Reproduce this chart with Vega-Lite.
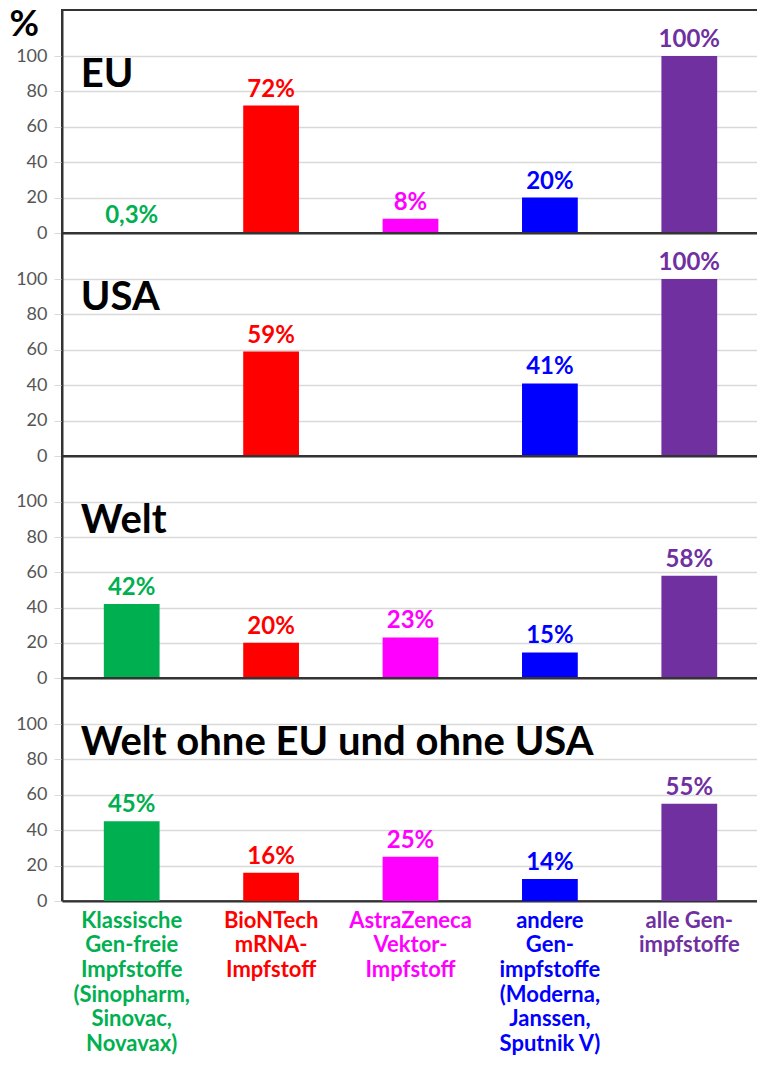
{
  "$schema": "https://vega.github.io/schema/vega-lite/v6.json",
  "background": "white",
  "padding": {"left": 8, "top": 5, "right": 0, "bottom": 0},
  "spacing": 0,
  "bounds": "flush",
  "config": {
    "font": "Lato",
    "view": {"stroke": "#333", "strokeWidth": 2}
  },
  "data": {"values": [
    {"region": "EU", "cat": "klassisch", "value": 0.3, "label": "0,3%"},
    {"region": "EU", "cat": "biontech", "value": 72, "label": "72%"},
    {"region": "EU", "cat": "astrazeneca", "value": 8, "label": "8%"},
    {"region": "EU", "cat": "andere", "value": 20, "label": "20%"},
    {"region": "EU", "cat": "alle", "value": 100, "label": "100%"},
    {"region": "USA", "cat": "klassisch", "value": 0, "label": ""},
    {"region": "USA", "cat": "biontech", "value": 59, "label": "59%"},
    {"region": "USA", "cat": "astrazeneca", "value": 0, "label": ""},
    {"region": "USA", "cat": "andere", "value": 41, "label": "41%"},
    {"region": "USA", "cat": "alle", "value": 100, "label": "100%"},
    {"region": "Welt", "cat": "klassisch", "value": 42, "label": "42%"},
    {"region": "Welt", "cat": "biontech", "value": 20, "label": "20%"},
    {"region": "Welt", "cat": "astrazeneca", "value": 23, "label": "23%"},
    {"region": "Welt", "cat": "andere", "value": 14.5, "label": "15%"},
    {"region": "Welt", "cat": "alle", "value": 58, "label": "58%"},
    {"region": "Welt ohne EU und ohne USA", "cat": "klassisch", "value": 45, "label": "45%"},
    {"region": "Welt ohne EU und ohne USA", "cat": "biontech", "value": 16, "label": "16%"},
    {"region": "Welt ohne EU und ohne USA", "cat": "astrazeneca", "value": 25, "label": "25%"},
    {"region": "Welt ohne EU und ohne USA", "cat": "andere", "value": 12.5, "label": "14%"},
    {"region": "Welt ohne EU und ohne USA", "cat": "alle", "value": 55, "label": "55%"}
  ]},
  "vconcat": [
    {
      "width": 697, "height": 223,
      "transform": [{"filter": "datum.region == 'EU'"}],
      "encoding": {
        "x": {"field": "cat", "type": "nominal", "sort": ["klassisch","biontech","astrazeneca","andere","alle"],
              "scale": {"paddingInner": 0.6, "paddingOuter": 0.3},
              "axis": {"title": null, "labels": false, "ticks": false, "domainColor": "#333", "domainWidth": 2}},
        "y": {"field": "value", "type": "quantitative", "scale": {"domain": [0, 126], "nice": false},
              "axis": {"values": [0,20,40,60,80,100], "title": "%", "titleAngle": 0, "titleFontSize": 36, "titleFontWeight": "bold", "titleColor": "#000",
                       "titleAlign": "left", "titleBaseline": "top", "titleX": -53, "titleY": -3,
                       "labelFontSize": 18, "labelColor": "#555", "labelPadding": 7, "tickSize": 8, "tickColor": "#d9d9d9",
                       "gridColor": "#d9d9d9", "gridWidth": 1.5, "domainColor": "#333", "domainWidth": 2}},
        "color": {"field": "cat", "type": "nominal", "legend": null,
                  "scale": {"domain": ["klassisch","biontech","astrazeneca","andere","alle"], "range": ["#00B050","#FF0000","#FF00FF","#0000FF","#7030A0"]}}
      },
      "layer": [
        {"mark": {"type": "bar"}},
        {"mark": {"type": "text", "baseline": "bottom", "dy": -4, "fontSize": 24, "fontWeight": "bold"}, "encoding": {"text": {"field": "label"}}},
        {"transform": [{"filter": "datum.cat == 'klassisch'"}],
         "mark": {"type": "text", "align": "left", "baseline": "middle", "dx": -23, "fontSize": 40, "fontWeight": "bold"},
         "encoding": {"x": {"field": "cat", "type": "nominal", "bandPosition": 0}, "y": {"datum": 89}, "text": {"field": "region"}, "color": {"value": "#000"}}}
      ]
    },
    {
      "width": 697, "height": 223,
      "transform": [{"filter": "datum.region == 'USA'"}],
      "encoding": {
        "x": {"field": "cat", "type": "nominal", "sort": ["klassisch","biontech","astrazeneca","andere","alle"],
              "scale": {"paddingInner": 0.6, "paddingOuter": 0.3},
              "axis": {"title": null, "labels": false, "ticks": false, "domainColor": "#333", "domainWidth": 2}},
        "y": {"field": "value", "type": "quantitative", "scale": {"domain": [0, 126], "nice": false},
              "axis": {"values": [0,20,40,60,80,100], "title": null,
                       "labelFontSize": 18, "labelColor": "#555", "labelPadding": 7, "tickSize": 8, "tickColor": "#d9d9d9",
                       "gridColor": "#d9d9d9", "gridWidth": 1.5, "domainColor": "#333", "domainWidth": 2}},
        "color": {"field": "cat", "type": "nominal", "legend": null,
                  "scale": {"domain": ["klassisch","biontech","astrazeneca","andere","alle"], "range": ["#00B050","#FF0000","#FF00FF","#0000FF","#7030A0"]}}
      },
      "layer": [
        {"mark": {"type": "bar"}},
        {"mark": {"type": "text", "baseline": "bottom", "dy": -4, "fontSize": 24, "fontWeight": "bold"}, "encoding": {"text": {"field": "label"}}},
        {"transform": [{"filter": "datum.cat == 'klassisch'"}],
         "mark": {"type": "text", "align": "left", "baseline": "middle", "dx": -23, "fontSize": 40, "fontWeight": "bold"},
         "encoding": {"x": {"field": "cat", "type": "nominal", "bandPosition": 0}, "y": {"datum": 89}, "text": {"field": "region"}, "color": {"value": "#000"}}}
      ]
    },
    {
      "width": 697, "height": 222,
      "transform": [{"filter": "datum.region == 'Welt'"}],
      "encoding": {
        "x": {"field": "cat", "type": "nominal", "sort": ["klassisch","biontech","astrazeneca","andere","alle"],
              "scale": {"paddingInner": 0.6, "paddingOuter": 0.3},
              "axis": {"title": null, "labels": false, "ticks": false, "domainColor": "#333", "domainWidth": 2}},
        "y": {"field": "value", "type": "quantitative", "scale": {"domain": [0, 126], "nice": false},
              "axis": {"values": [0,20,40,60,80,100], "title": null,
                       "labelFontSize": 18, "labelColor": "#555", "labelPadding": 7, "tickSize": 8, "tickColor": "#d9d9d9",
                       "gridColor": "#d9d9d9", "gridWidth": 1.5, "domainColor": "#333", "domainWidth": 2}},
        "color": {"field": "cat", "type": "nominal", "legend": null,
                  "scale": {"domain": ["klassisch","biontech","astrazeneca","andere","alle"], "range": ["#00B050","#FF0000","#FF00FF","#0000FF","#7030A0"]}}
      },
      "layer": [
        {"mark": {"type": "bar"}},
        {"mark": {"type": "text", "baseline": "bottom", "dy": -4, "fontSize": 24, "fontWeight": "bold"}, "encoding": {"text": {"field": "label"}}},
        {"transform": [{"filter": "datum.cat == 'klassisch'"}],
         "mark": {"type": "text", "align": "left", "baseline": "middle", "dx": -23, "fontSize": 40, "fontWeight": "bold"},
         "encoding": {"x": {"field": "cat", "type": "nominal", "bandPosition": 0}, "y": {"datum": 89}, "text": {"field": "region"}, "color": {"value": "#000"}}}
      ]
    },
    {
      "width": 697, "height": 223,
      "transform": [{"filter": "datum.region == 'Welt ohne EU und ohne USA'"}],
      "encoding": {
        "x": {"field": "cat", "type": "nominal", "sort": ["klassisch","biontech","astrazeneca","andere","alle"],
              "scale": {"paddingInner": 0.6, "paddingOuter": 0.3},
              "axis": {"title": null, "ticks": false, "domainColor": "#333", "domainWidth": 2, "labelAngle": 0,
                       "labelFontSize": 22, "labelFontWeight": "bold", "labelLineHeight": 24.7, "labelPadding": 9, "labelBaseline": "top",
                       "labelExpr": "datum.value == 'klassisch' ? ['Klassische','Gen-freie','Impfstoffe','(Sinopharm,','Sinovac,','Novavax)'] : datum.value == 'biontech' ? ['BioNTech','mRNA-','Impfstoff'] : datum.value == 'astrazeneca' ? ['AstraZeneca','Vektor-','Impfstoff'] : datum.value == 'andere' ? ['andere','Gen-','impfstoffe','(Moderna,','Janssen,','Sputnik V)'] : ['alle Gen-','impfstoffe']",
                       "labelColor": {"condition": [
                         {"test": "datum.value == 'klassisch'", "value": "#00B050"},
                         {"test": "datum.value == 'biontech'", "value": "#FF0000"},
                         {"test": "datum.value == 'astrazeneca'", "value": "#FF00FF"},
                         {"test": "datum.value == 'andere'", "value": "#0000FF"}
                       ], "value": "#7030A0"}}},
        "y": {"field": "value", "type": "quantitative", "scale": {"domain": [0, 126], "nice": false},
              "axis": {"values": [0,20,40,60,80,100], "title": null,
                       "labelFontSize": 18, "labelColor": "#555", "labelPadding": 7, "tickSize": 8, "tickColor": "#d9d9d9",
                       "gridColor": "#d9d9d9", "gridWidth": 1.5, "domainColor": "#333", "domainWidth": 2}},
        "color": {"field": "cat", "type": "nominal", "legend": null,
                  "scale": {"domain": ["klassisch","biontech","astrazeneca","andere","alle"], "range": ["#00B050","#FF0000","#FF00FF","#0000FF","#7030A0"]}}
      },
      "layer": [
        {"mark": {"type": "bar"}},
        {"mark": {"type": "text", "baseline": "bottom", "dy": -4, "fontSize": 24, "fontWeight": "bold"}, "encoding": {"text": {"field": "label"}}},
        {"transform": [{"filter": "datum.cat == 'klassisch'"}],
         "mark": {"type": "text", "align": "left", "baseline": "middle", "dx": -23, "fontSize": 40, "fontWeight": "bold"},
         "encoding": {"x": {"field": "cat", "type": "nominal", "bandPosition": 0}, "y": {"datum": 89}, "text": {"field": "region"}, "color": {"value": "#000"}}}
      ]
    }
  ]
}
